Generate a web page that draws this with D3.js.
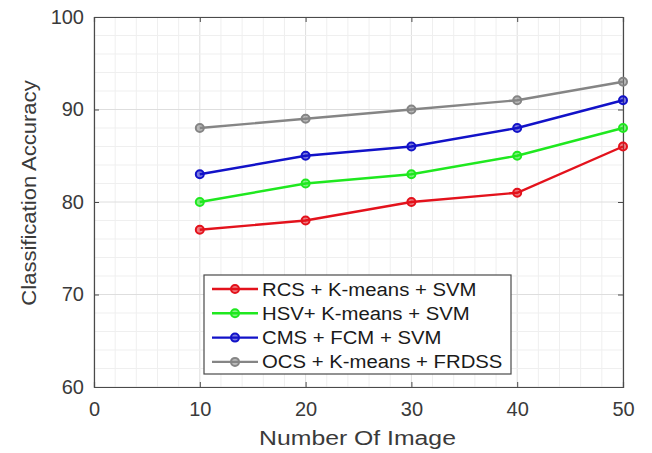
<!DOCTYPE html>
<html>
<head>
<meta charset="utf-8">
<script src="https://cdn.jsdelivr.net/npm/d3@7"></script>
<style>
	body { margin: 0; background: #fff; }
	text { font-family: 'Liberation Sans', Arial, sans-serif; }
</style>
</head>
<body>
<svg id="chart" width="652" height="453"></svg>
<script>
const imageCounts = [10, 20, 30, 40, 50];
const rcsKmeansSvm = [77, 78, 80, 81, 86];
const hsvKmeansSvm = [80, 82, 83, 85, 88];
const cmsFcmSvm = [83, 85, 86, 88, 91];
const ocsKmeansFrdss = [88, 89, 90, 91, 93];
const seriesNames = ['RCS + K-means + SVM', 'HSV+ K-means + SVM', 'CMS + FCM + SVM', 'OCS + K-means + FRDSS'];
const xTicks = [0, 10, 20, 30, 40, 50];
const yTicks = [60, 70, 80, 90, 100];

const series = [
	{name: seriesNames[0], values: rcsKmeansSvm, color: '#e3121c'},
	{name: seriesNames[1], values: hsvKmeansSvm, color: '#1fe81f'},
	{name: seriesNames[2], values: cmsFcmSvm, color: '#1212c8'},
	{name: seriesNames[3], values: ocsKmeansFrdss, color: '#858585'}
];

const svg = d3.select('#chart');
const //
	plotLeft = 94,
	plotRight = 623,
	plotTop = 17,
	plotBottom = 387;

const x = d3.scaleLinear().domain([0, 50]).range([plotLeft, plotRight]);
const y = d3.scaleLinear().domain([60, 100]).range([plotBottom, plotTop]);

// minor grid every 2 units
const grid = svg.append('g');
d3.range(0, 51, 2).forEach(v => {
	grid.append('line')
		.attr('x1', x(v)).attr('x2', x(v)).attr('y1', plotTop).attr('y2', plotBottom)
		.attr('stroke', v % 10 === 0 ? '#dedede' : '#efefef').attr('stroke-width', 1);
});
d3.range(60, 101, 2).forEach(v => {
	grid.append('line')
		.attr('x1', plotLeft).attr('x2', plotRight).attr('y1', y(v)).attr('y2', y(v))
		.attr('stroke', v % 10 === 0 ? '#dedede' : '#efefef').attr('stroke-width', 1);
});

// axes (MATLAB style, ticks inward, box)
const axisColor = '#4a4a4a';
const xAxis = svg.append('g').attr('transform', `translate(0,${plotBottom})`)
	.call(d3.axisBottom(x).tickValues(xTicks).tickSize(-5).tickPadding(15));
const xAxisTop = svg.append('g').attr('transform', `translate(0,${plotTop})`)
	.call(d3.axisTop(x).tickValues(xTicks).tickSize(-5).tickFormat(''));
const yAxis = svg.append('g').attr('transform', `translate(${plotLeft},0)`)
	.call(d3.axisLeft(y).tickValues(yTicks).tickSize(-5).tickPadding(10));
const yAxisRight = svg.append('g').attr('transform', `translate(${plotRight},0)`)
	.call(d3.axisRight(y).tickValues(yTicks).tickSize(-5).tickFormat(''));

[xAxis, xAxisTop, yAxis, yAxisRight].forEach(a => {
	a.selectAll('path.domain').attr('stroke', axisColor).attr('stroke-width', 1.2);
	a.selectAll('.tick line').attr('stroke', axisColor);
	a.selectAll('.tick text').attr('fill', '#3a3a3a').style('font-size', '20px');
});

// lines and markers
const line = d3.line().x((d, i) => x(imageCounts[i])).y(d => y(d));
series.forEach(s => {
	svg.append('path')
		.datum(s.values)
		.attr('d', line)
		.attr('fill', 'none')
		.attr('stroke', s.color)
		.attr('stroke-width', 2.4);
	svg.selectAll(null)
		.data(s.values)
		.enter()
		.append('circle')
		.attr('cx', (d, i) => x(imageCounts[i]))
		.attr('cy', d => y(d))
		.attr('r', 4)
		.attr('fill', s.color)
		.attr('fill-opacity', 0.55)
		.attr('stroke', s.color)
		.attr('stroke-width', 2);
});

// axis labels (text is a bit wider than Arial in the original, so stretch it)
svg.append('text')
	.attr('transform', `translate(${(plotLeft + plotRight) / 2 - 1},445) scale(1.18,1)`)
	.attr('text-anchor', 'middle').attr('fill', '#3a3a3a')
	.style('font-size', '21px')
	.text('Number Of Image');
svg.append('text')
	.attr('transform', `translate(36,193) rotate(-90) scale(1.05,1)`)
	.attr('text-anchor', 'middle').attr('fill', '#3a3a3a')
	.style('font-size', '21px')
	.text('Classification Accuracy');

// legend
const legend = svg.append('g');
legend.append('rect')
	.attr('x', 204).attr('y', 275).attr('width', 307).attr('height', 99)
	.attr('fill', '#fff').attr('stroke', '#4a4a4a').attr('stroke-width', 1.2);
series.forEach((s, i) => {
	const rowY = 289 + i * 24.3;
	legend.append('line')
		.attr('x1', 212).attr('x2', 258).attr('y1', rowY).attr('y2', rowY)
		.attr('stroke', s.color).attr('stroke-width', 2.4);
	legend.append('circle')
		.attr('cx', 235).attr('cy', rowY).attr('r', 4)
		.attr('fill', s.color).attr('fill-opacity', 0.55)
		.attr('stroke', s.color).attr('stroke-width', 2);
	legend.append('text')
		.attr('transform', `translate(262,${rowY + 6.5}) scale(1.07,1)`)
		.attr('fill', '#1a1a1a')
		.style('font-size', '19px')
		.text(s.name);
});
</script>
</body>
</html>
